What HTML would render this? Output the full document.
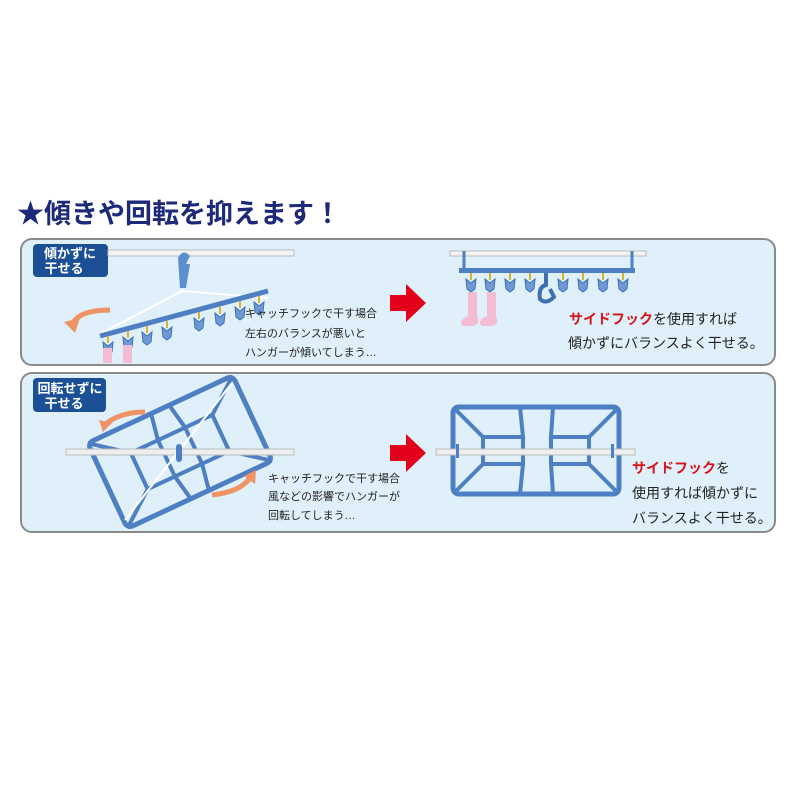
<!DOCTYPE html>
<html><head><meta charset="utf-8"><style>
body{margin:0;background:#fff;width:800px;height:800px;overflow:hidden}
svg{display:block}
text{font-family:"Liberation Sans","Noto Sans CJK JP",sans-serif}
</style></head><body>
<svg width="800" height="800" viewBox="0 0 800 800">
<defs>
<g id="clip"><line x1="0" y1="0" x2="0" y2="7" stroke="#d6b430" stroke-width="2"/><path d="M-5 6 L0 10 L5 6 L4 16 L0 19 L-4 16Z" fill="#6d9ad6" stroke="#3f6fb0" stroke-width="1"/></g>
</defs>
<text x="17" y="223" font-size="27" font-weight="bold" fill="#1d2a7a">★傾きや回転を抑えます！</text>
<rect x="21" y="239" width="754" height="126" rx="11" fill="#dff0fb" stroke="#8a8a8a" stroke-width="2"/>
<rect x="21" y="373" width="754" height="159" rx="11" fill="#dff0fb" stroke="#8a8a8a" stroke-width="2"/>
<rect x="33" y="244" width="75" height="33" rx="4" fill="#1b4f96"/>
<text x="70" y="258" font-size="13" font-weight="bold" fill="#fff" text-anchor="middle">傾かずに</text>
<text x="64" y="273" font-size="13" font-weight="bold" fill="#fff" text-anchor="middle">干せる</text>
<rect x="33" y="378" width="73" height="34" rx="4" fill="#1b4f96"/>
<text x="70" y="393" font-size="13" font-weight="bold" fill="#fff" text-anchor="middle">回転せずに</text>
<text x="64" y="408" font-size="13" font-weight="bold" fill="#fff" text-anchor="middle">干せる</text>
<!-- panel1 left -->
<rect x="108" y="250" width="186" height="6" fill="#f4f4f4" stroke="#bbb"/>
<path d="M178 258 q5-10 12-2 l-4 8 l4 0 l-4 24 h-6" fill="#5c8fd0"/>
<path d="M100 334 L182 291 L268 298" stroke="#fff" fill="none" stroke-width="2"/>
<line x1="100" y1="336" x2="268" y2="291" stroke="#4d7fc2" stroke-width="5"/>
<use href="#clip" x="108" y="336"/><use href="#clip" x="128" y="331"/><use href="#clip" x="147" y="326"/><use href="#clip" x="167" y="321"/><use href="#clip" x="199" y="312"/><use href="#clip" x="220" y="307"/><use href="#clip" x="240" y="301"/><use href="#clip" x="259" y="296"/>
<rect x="103" y="348" width="9" height="15" fill="#f3bcd5"/><rect x="123" y="345" width="9" height="18" fill="#f3bcd5"/>
<path d="M110 310 Q78 310 72 325" stroke="#ef9365" stroke-width="5" fill="none"/><path d="M64 322 L75 333 L80 318Z" fill="#ef9365"/>
<g font-size="11" fill="#222"><text x="245" y="317">キャッチフックで干す場合</text><text x="245" y="337">左右のバランスが悪いと</text><text x="245" y="356">ハンガーが傾いてしまう…</text></g>
<path d="M390 295 h16 v-11 l20 19 l-20 19 v-11 h-16z" fill="#e3001b"/>
<!-- panel1 right -->
<rect x="450" y="251" width="196" height="5" fill="#f4f4f4" stroke="#bbb"/>
<path d="M464 251 v18 M632 251 v18" stroke="#4d7fc2" stroke-width="3" fill="none"/>
<rect x="459" y="268" width="176" height="5" fill="#4d7fc2"/>
<use href="#clip" x="471" y="273"/><use href="#clip" x="490" y="273"/><use href="#clip" x="510" y="273"/><use href="#clip" x="530" y="273"/><use href="#clip" x="563" y="273"/><use href="#clip" x="583" y="273"/><use href="#clip" x="603" y="273"/><use href="#clip" x="623" y="273"/>
<path d="M546 273 v12 q-8 2-6 14 q6 6 14-2 l-4-8" stroke="#3f6fb0" stroke-width="4" fill="none"/>
<path d="M468 292 h9 v24 q4 8-4 10 h-10 q-6-5 5-10z" fill="#f3bcd5"/>
<path d="M487 292 h9 v24 q4 8-4 10 h-10 q-6-5 5-10z" fill="#f3bcd5"/>
<g font-size="14" fill="#222"><text x="569" y="324"><tspan fill="#d8141b" font-weight="bold">サイドフック</tspan>を使用すれば</text><text x="568" y="348">傾かずにバランスよく干せる。</text></g>
<!-- panel2 left -->
<g transform="rotate(-25 180 452)">
<rect x="100" y="405" width="160" height="94" rx="6" fill="none" stroke="#4d7fc2" stroke-width="5"/>
<path d="M100 405 L135 432 H225 L260 405 M100 499 L135 472 H225 L260 499 M135 432 V472 M225 432 V472 M170 405 L165 432 V472 L170 499 M190 405 L195 432 V472 L190 499" stroke="#4d7fc2" stroke-width="4" fill="none"/>
</g>
<rect x="66" y="449" width="228" height="6" fill="#eee" stroke="#bbb"/>
<line x1="125" y1="520" x2="232" y2="383" stroke="#fff" stroke-width="2"/>
<rect x="176" y="444" width="6" height="18" rx="3" fill="#4d7fc2"/>
<path d="M145 412 Q120 412 104 425" stroke="#ef9365" stroke-width="5" fill="none"/><path d="M99 420 L103 432 L112 423Z" fill="#ef9365"/>
<path d="M212 495 Q240 492 250 478" stroke="#ef9365" stroke-width="5" fill="none"/><path d="M244 476 L256 470 L255 484Z" fill="#ef9365"/>
<g font-size="11" fill="#222"><text x="268" y="482">キャッチフックで干す場合</text><text x="268" y="500">風などの影響でハンガーが</text><text x="268" y="519">回転してしまう…</text></g>
<path d="M390 445 h16 v-11 l20 19 l-20 19 v-11 h-16z" fill="#e3001b"/>
<!-- panel2 right -->
<rect x="453" y="407" width="166" height="87" rx="6" fill="none" stroke="#4d7fc2" stroke-width="5"/>
<path d="M453 407 L483 437 H523 L520 407 M453 494 L483 464 H523 L520 494 M483 437 V464 M523 437 V464 M619 407 L589 437 H551 L553 407 M619 494 L589 464 H551 L553 494 M589 437 V464 M551 437 V464" stroke="#4d7fc2" stroke-width="4" fill="none"/>
<rect x="436" y="449" width="199" height="6" fill="#eee" stroke="#bbb"/>
<rect x="456" y="444" width="3" height="14" fill="#4d7fc2"/><rect x="611" y="444" width="3" height="14" fill="#4d7fc2"/>
<g font-size="14" fill="#222"><text x="632" y="473"><tspan fill="#d8141b" font-weight="bold">サイドフック</tspan>を</text><text x="632" y="498">使用すれば傾かずに</text><text x="632" y="523">バランスよく干せる。</text></g>
</svg>
</body></html>
